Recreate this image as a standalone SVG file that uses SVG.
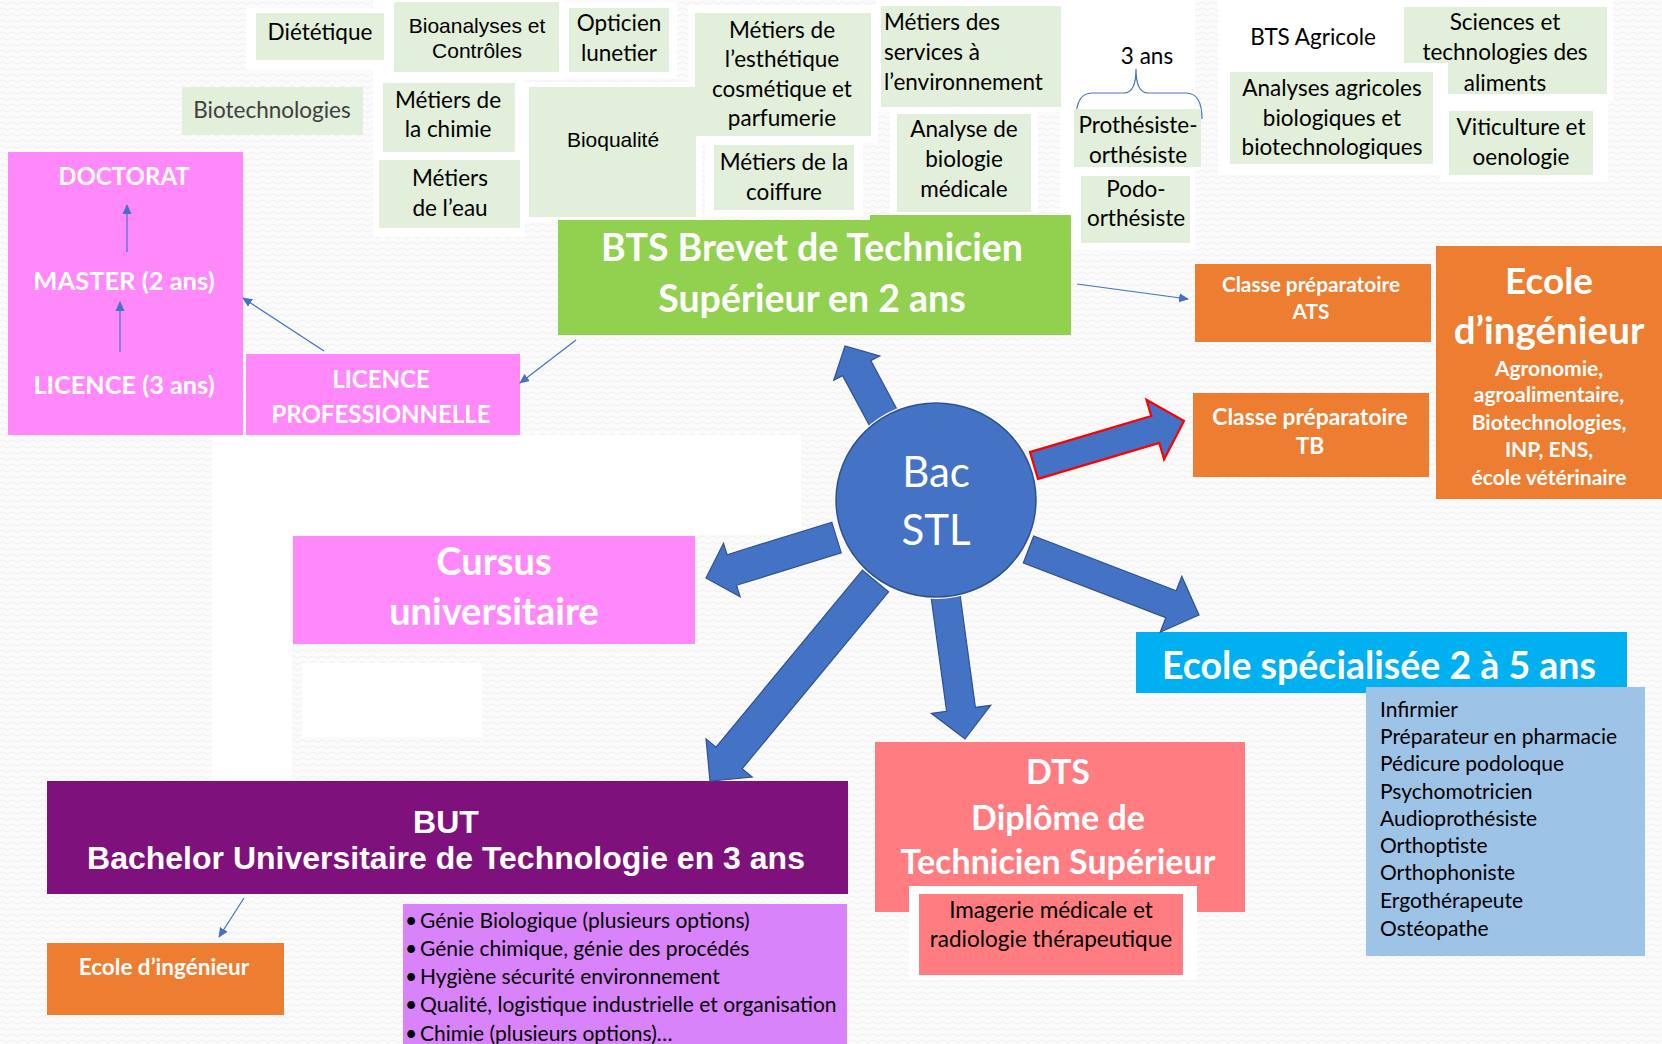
<svg xmlns="http://www.w3.org/2000/svg" width="1662" height="1044" viewBox="0 0 1662 1044">
<defs>
<pattern id="bgp" width="10" height="6" patternUnits="userSpaceOnUse"><rect width="10" height="6" fill="#fbfbfb"/><path d="M0,3 Q2.5,0.5 5,3 T10,3" fill="none" stroke="#efefef" stroke-width="1"/></pattern>
<marker id="ah" markerWidth="10" markerHeight="10" refX="9" refY="5" orient="auto" markerUnits="userSpaceOnUse"><path d="M0,0.5 L10,5 L0,9.5 Z" fill="#4472C4"/></marker>
</defs>
<style>
.g{fill:#E2EFDA}
.wh{fill:#ffffff}
.t{font-family:Lato,"Noto Sans",sans-serif;font-size:22.5px;fill:#000;text-anchor:middle}
.ts{font-family:Lato,"Noto Sans",sans-serif;font-size:22.5px;fill:#000;text-anchor:start}
.gray{fill:#404040}
.ar{font-family:"Liberation Sans",Arial,sans-serif;font-size:21px;fill:#000;text-anchor:middle}
.b{font-family:Lato,"Noto Sans",sans-serif;font-weight:bold;fill:#fff;text-anchor:middle}
.pink{fill:#FF88FB}
.orange{fill:#ED7D31}
.conn{stroke:#4472C4;stroke-width:1.2;fill:none;marker-end:url(#ah)}
.blk{fill:#4472C4;stroke:#2F528F;stroke-width:1.2;stroke-linejoin:miter}
.red{stroke:#FF0000;stroke-width:2.2}
.lst{font-family:Lato,"Noto Sans",sans-serif;font-size:21px;fill:#000}
.bt{font-family:"Liberation Sans",Arial,sans-serif;font-weight:bold;font-size:32px;fill:#fff;text-anchor:middle}
.bac{font-family:Lato,"Noto Sans",sans-serif;font-size:42px;fill:#fff;text-anchor:middle}
</style>
<rect width="1662" height="1044" fill="url(#bgp)"/>
<g id="white-patches">
<rect class="wh" x="246" y="8" width="143" height="62"/>
<rect class="wh" x="373" y="0" width="190" height="80"/>
<rect class="wh" x="562" y="2" width="115" height="76"/>
<rect class="wh" x="688" y="5" width="190" height="138"/>
<rect class="wh" x="876" y="0" width="190" height="112"/>
<rect class="wh" x="1060" y="0" width="135" height="250"/>
<rect class="wh" x="1218" y="0" width="225" height="175"/>
<rect class="wh" x="1398" y="0" width="215" height="100"/>
<rect class="wh" x="1440" y="100" width="168" height="82"/>
<rect class="wh" x="373" y="77" width="152" height="160"/>
<rect class="wh" x="522" y="82" width="180" height="140"/>
<rect class="wh" x="705" y="138" width="158" height="78"/>
<rect class="wh" x="890" y="108" width="148" height="110"/>
<rect class="wh" x="212" y="435" width="589" height="100"/>
<rect class="wh" x="212" y="435" width="80" height="345"/>
<rect class="wh" x="302" y="663" width="180" height="74"/>
</g>
<g id="diet"><rect class="g" x="256" y="13" width="128" height="47"/><text class="t" x="320" y="40">Diététique</text></g>
<g id="bioanalyses"><rect class="g" x="394" y="2" width="165" height="70"/><text class="ar" x="477" y="33">Bioanalyses et</text><text class="ar" x="477" y="58">Contrôles</text></g>
<g id="opticien"><rect class="g" x="569" y="8" width="100" height="64"/><text class="t" x="619" y="31">Opticien</text><text class="t" x="619" y="61">lunetier</text></g>
<g id="esthetique"><rect class="g" x="695" y="13" width="176" height="123"/><text class="t" x="782" y="38">Métiers de</text><text class="t" x="782" y="67">l’esthétique</text><text class="t" x="782" y="97">cosmétique et</text><text class="t" x="782" y="126">parfumerie</text></g>
<g id="services"><rect class="g" x="881" y="6" width="180" height="101"/><text class="ts" x="884" y="30">Métiers des</text><text class="ts" x="884" y="60">services à</text><text class="ts" x="884" y="90">l’environnement</text></g>
<g id="trois-ans"><text class="t" x="1147" y="64">3 ans</text><path d="M1076,119 Q1076,93 1092,93 L1124,93 Q1136,93 1136,69 Q1136,93 1148,93 L1186,93 Q1202,93 1202,119" fill="none" stroke="#4472C4" stroke-width="1.2"/></g>
<g id="prothesiste"><rect class="g" x="1074" y="109" width="127" height="58"/><text class="t" x="1138" y="133">Prothésiste-</text><text class="t" x="1138" y="163">orthésiste</text></g>
<g id="podo"><rect class="g" x="1081" y="176" width="109" height="67"/><text class="t" x="1136" y="197">Podo-</text><text class="t" x="1136" y="226">orthésiste</text></g>
<g id="bts-agricole"><text class="t" x="1313" y="45">BTS Agricole</text></g>
<g id="sciences"><path class="g" d="M1404,7 L1607,7 L1607,94 L1448,94 L1448,63 L1404,63 Z"/><text class="t" x="1505" y="30">Sciences et</text><text class="t" x="1505" y="60">technologies des</text><text class="t" x="1505" y="91">aliments</text></g>
<g id="analyses-agricoles"><rect class="g" x="1230" y="72" width="203" height="92"/><text class="t" x="1332" y="96">Analyses agricoles</text><text class="t" x="1332" y="126">biologiques et</text><text class="t" x="1332" y="155">biotechnologiques</text></g>
<g id="viticulture"><rect class="g" x="1449" y="111" width="144" height="64"/><text class="t" x="1521" y="135">Viticulture et</text><text class="t" x="1521" y="165">oenologie</text></g>
<g id="biotech"><rect class="g" x="182" y="87" width="181" height="48"/><text class="t gray" x="272" y="118">Biotechnologies</text></g>
<g id="chimie"><rect class="g" x="383" y="83" width="132" height="69"/><text class="t" x="448" y="108">Métiers de</text><text class="t" x="448" y="137">la chimie</text></g>
<g id="eau"><rect class="g" x="379" y="160" width="141" height="68"/><text class="t" x="450" y="186">Métiers</text><text class="t" x="450" y="216">de l’eau</text></g>
<g id="bioqualite"><rect class="g" x="529" y="87" width="167" height="130"/><text class="ar" x="613" y="147">Bioqualité</text></g>
<g id="coiffure"><rect class="g" x="714" y="145" width="140" height="65"/><text class="t" x="784" y="170">Métiers de la</text><text class="t" x="784" y="200">coiffure</text></g>
<g id="analyse-bio"><rect class="g" x="897" y="114" width="134" height="98"/><text class="t" x="964" y="137">Analyse de</text><text class="t" x="964" y="167">biologie</text><text class="t" x="964" y="197">médicale</text></g>
<g id="bts"><path d="M558,220 L870,220 L870,215 L1071,215 L1071,335 L558,335 Z" fill="#92D050"/><text class="b" x="812" y="261" font-size="37.5">BTS Brevet de Technicien</text><text class="b" x="812" y="312" font-size="37.5">Supérieur en 2 ans</text></g>
<g id="universite"><rect class="pink" x="8" y="152" width="235" height="283"/><text class="b" x="124" y="185" font-size="24">DOCTORAT</text><text class="b" x="124" y="290" font-size="25.5">MASTER (2 ans)</text><text class="b" x="124" y="394" font-size="25.3">LICENCE (3 ans)</text></g>
<g id="licence-pro"><rect class="pink" x="246" y="354" width="274" height="81"/><text class="b" x="381" y="388" font-size="24">LICENCE</text><text class="b" x="381" y="423" font-size="24">PROFESSIONNELLE</text></g>
<g id="ats"><rect class="orange" x="1195" y="264" width="236" height="78"/><text class="b" x="1311" y="292" font-size="20.8">Classe préparatoire</text><text class="b" x="1311" y="319" font-size="20.8">ATS</text></g>
<g id="tb"><rect class="orange" x="1193" y="393" width="236" height="84"/><text class="b" x="1310" y="425" font-size="22.8">Classe préparatoire</text><text class="b" x="1310" y="454" font-size="22.8">TB</text></g>
<g id="ecole-ing"><rect class="orange" x="1436" y="246" width="226" height="253"/><text class="b" x="1549" y="294" font-size="37">Ecole</text><text class="b" x="1549" y="344" font-size="38.5">d’ingénieur</text><text class="b" x="1549" y="376" font-size="21">Agronomie,</text><text class="b" x="1549" y="402" font-size="21">agroalimentaire,</text><text class="b" x="1549" y="430" font-size="21">Biotechnologies,</text><text class="b" x="1549" y="457" font-size="21">INP, ENS,</text><text class="b" x="1549" y="485" font-size="21">école vétérinaire</text></g>
<g id="cursus"><rect class="pink" x="293" y="536" width="402" height="108"/><text class="b" x="494" y="575" font-size="38">Cursus</text><text class="b" x="494" y="625" font-size="38">universitaire</text></g>
<g id="ecole-spe"><rect x="1136" y="632" width="491" height="61" fill="#00B0F0"/><text class="b" x="1379" y="679" font-size="37.5">Ecole spécialisée 2 à 5 ans</text></g>
<g id="ecole-spe-liste"><rect x="1366" y="687" width="279" height="269" fill="#9DC3E6"/>
<text class="lst" x="1380" y="717">Infirmier</text><text class="lst" x="1380" y="744">Préparateur en pharmacie</text><text class="lst" x="1380" y="771">Pédicure podoloque</text><text class="lst" x="1380" y="799">Psychomotricien</text><text class="lst" x="1380" y="826">Audioprothésiste</text><text class="lst" x="1380" y="853">Orthoptiste</text><text class="lst" x="1380" y="880">Orthophoniste</text><text class="lst" x="1380" y="908">Ergothérapeute</text><text class="lst" x="1380" y="936">Ostéopathe</text></g>
<g id="dts"><rect x="875" y="742" width="370" height="170" fill="#FF7C80"/><text class="b" x="1058" y="784" font-size="34">DTS</text><text class="b" x="1058" y="830" font-size="34">Diplôme de</text><text class="b" x="1058" y="874" font-size="34">Technicien Supérieur</text></g>
<g id="imagerie"><rect class="wh" x="909" y="886" width="288" height="94"/><rect x="919" y="894" width="264" height="81" fill="#FF7C80"/><text class="t" x="1051" y="918" font-size="23">Imagerie médicale et</text><text class="t" x="1051" y="947" font-size="23">radiologie thérapeutique</text></g>
<g id="but"><rect x="47" y="781" width="801" height="113" fill="#7F117D"/><text class="bt" x="446" y="833">BUT</text><text class="bt" x="446" y="869">Bachelor Universitaire de Technologie en 3 ans</text></g>
<g id="but-liste"><rect x="403" y="904" width="444" height="140" fill="#D883FA"/>
<g class="lst" font-size="21.5"><text x="405" y="928">•</text><text x="420" y="928">Génie Biologique (plusieurs options)</text><text x="405" y="956">•</text><text x="420" y="956">Génie chimique, génie des procédés</text><text x="405" y="984">•</text><text x="420" y="984">Hygiène sécurité environnement</text><text x="405" y="1012">•</text><text x="420" y="1012">Qualité, logistique industrielle et organisation</text><text x="405" y="1041">•</text><text x="420" y="1041">Chimie (plusieurs options)…</text></g></g>
<g id="ecole-ing-small"><rect class="orange" x="47" y="943" width="237" height="72"/><text class="b" x="164" y="975" font-size="22.5">Ecole d’ingénieur</text></g>
<g id="connectors">
<line class="conn" x1="127" y1="252" x2="127" y2="205"/>
<line class="conn" x1="120" y1="352" x2="120" y2="302"/>
<line class="conn" x1="324" y1="351" x2="243" y2="298"/>
<line class="conn" x1="576" y1="340" x2="520" y2="383"/>
<line class="conn" x1="1077" y1="284" x2="1188" y2="299"/>
<line class="conn" x1="244" y1="898" x2="219" y2="937"/>
<polygon class="blk" points="897.6,410.5 870.8,360.6 879.7,356.0 845,346 833.7,380.2 842.6,375.6 869.4,425.5"/>
<polygon class="blk red" points="1038.0,478.9 1159.3,442.9 1164.1,459.2 1184,421 1146.5,399.8 1151.3,416.1 1030.0,452.1"/>
<polygon class="blk" points="1023.3,563.0 1165.8,617.7 1160.2,632.2 1199,615 1181.8,576.2 1176.2,590.7 1033.7,536.0"/>
<polygon class="blk" points="931.1,597.5 946.6,711.3 931.3,713.3 965,739 990.7,705.3 975.4,707.3 959.9,593.6"/>
<polygon class="blk" points="862.4,570.2 716.0,747.1 706.0,738.8 710,781 752.2,777.0 742.2,768.7 888.6,591.8"/>
<polygon class="blk" points="831.8,522.2 727.1,554.7 723.5,543.3 706,578 740.1,596.7 736.5,585.3 841.2,552.8"/>
</g>
<g id="bac-stl"><ellipse cx="936" cy="500" rx="102" ry="99" fill="#fff"/><ellipse cx="936" cy="500" rx="100" ry="97" fill="#4472C4" stroke="#2F528F" stroke-width="1.5"/><text class="bac" x="936" y="487">Bac</text><text class="bac" x="936" y="545">STL</text></g>
</svg>
